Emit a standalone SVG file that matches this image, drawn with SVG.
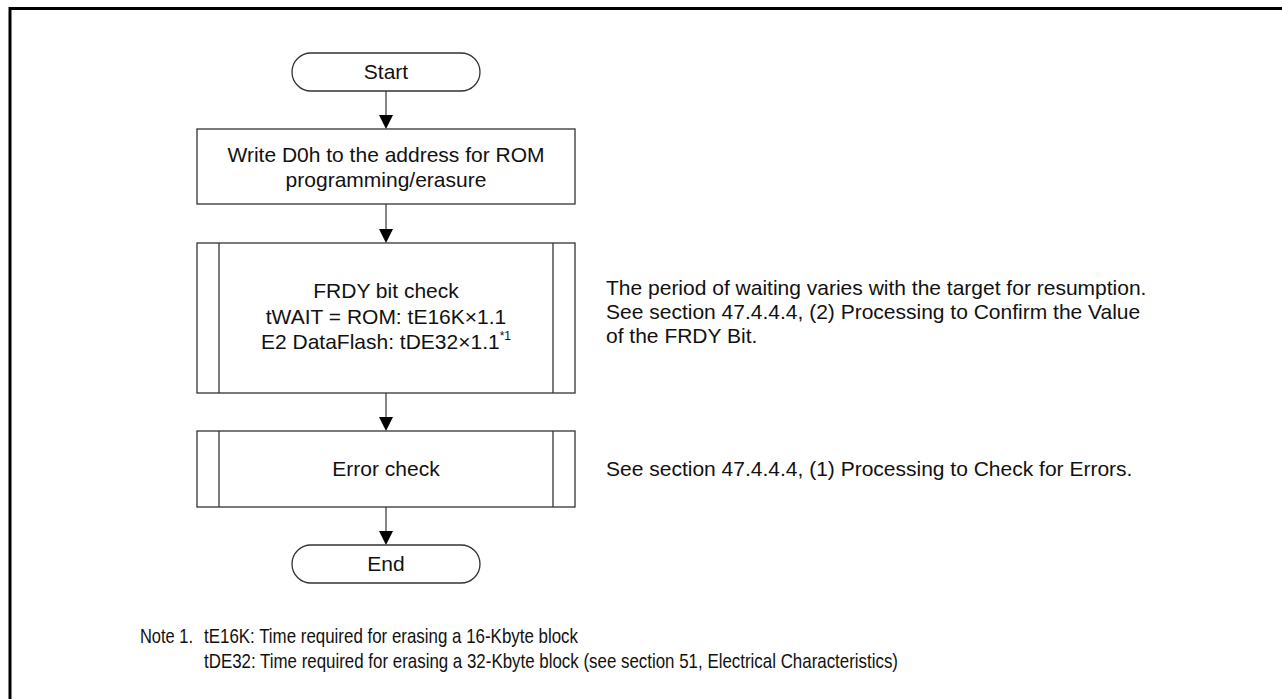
<svg xmlns="http://www.w3.org/2000/svg" width="1282" height="699" viewBox="0 0 1282 699">
<defs>
<style>
.box{fill:#fff;stroke:#333;stroke-width:1.3}
.t{font-family:"Liberation Sans",Arial,sans-serif;font-size:21px;fill:#111}
.c{text-anchor:middle}
.n{font-family:"Liberation Sans Narrow","Liberation Sans",Arial,sans-serif;font-size:21px;fill:#111}
.ln{stroke:#444;stroke-width:1.3;fill:none}
.ah{fill:#000}
</style>
</defs>
<rect width="1282" height="699" fill="#fff"/>
<path d="M10,699 V8.5 H1282" fill="none" stroke="#000" stroke-width="3"/>
<g id="connectors">
<line class="ln" x1="386" y1="91" x2="386" y2="116"/><polygon class="ah" points="379,115 393,115 386,129"/>
<line class="ln" x1="386" y1="204" x2="386" y2="230"/><polygon class="ah" points="379,229 393,229 386,243"/>
<line class="ln" x1="386" y1="393" x2="386" y2="418"/><polygon class="ah" points="379,417 393,417 386,431"/>
<line class="ln" x1="386" y1="507" x2="386" y2="532"/><polygon class="ah" points="379,531 393,531 386,545"/>
</g>
<g id="start">
<rect class="box" x="292" y="53" width="188" height="38" rx="19"/>
<text class="t c" x="386" y="79">Start</text>
</g>
<g id="write">
<rect class="box" x="197" y="129" width="378" height="75"/>
<text class="t c" x="386" y="162">Write D0h to the address for ROM</text>
<text class="t c" x="386" y="187">programming/erasure</text>
</g>
<g id="frdy">
<rect class="box" x="197" y="243" width="378" height="150"/>
<line class="box" x1="219" y1="243" x2="219" y2="393"/>
<line class="box" x1="553" y1="243" x2="553" y2="393"/>
<text class="t c" x="386" y="298">FRDY bit check</text>
<text class="t c" x="386" y="324">tWAIT = ROM: tE16K×1.1</text>
<text class="t" x="386" y="349" text-anchor="middle">E2 DataFlash: tDE32×1.1<tspan font-size="12" dy="-9">*1</tspan></text>
</g>
<g id="frdy-note">
<text class="t" x="606" y="295">The period of waiting varies with the target for resumption.</text>
<text class="t" x="606" y="319">See section 47.4.4.4, (2) Processing to Confirm the Value</text>
<text class="t" x="606" y="343">of the FRDY Bit.</text>
</g>
<g id="error">
<rect class="box" x="197" y="431" width="378" height="76"/>
<line class="box" x1="219" y1="431" x2="219" y2="507"/>
<line class="box" x1="553" y1="431" x2="553" y2="507"/>
<text class="t c" x="386" y="476">Error check</text>
</g>
<g id="error-note">
<text class="t" x="606" y="476">See section 47.4.4.4, (1) Processing to Check for Errors.</text>
</g>
<g id="end">
<rect class="box" x="292" y="545" width="188" height="38" rx="19"/>
<text class="t c" x="386" y="571">End</text>
</g>
<g id="notes">
<text class="n" x="140" y="643" textLength="53" lengthAdjust="spacingAndGlyphs">Note 1.</text>
<text class="n" x="204" y="643" textLength="374" lengthAdjust="spacingAndGlyphs">tE16K: Time required for erasing a 16-Kbyte block</text>
<text class="n" x="204" y="668" textLength="694" lengthAdjust="spacingAndGlyphs">tDE32: Time required for erasing a 32-Kbyte block (see section 51, Electrical Characteristics)</text>
</g>
</svg>
